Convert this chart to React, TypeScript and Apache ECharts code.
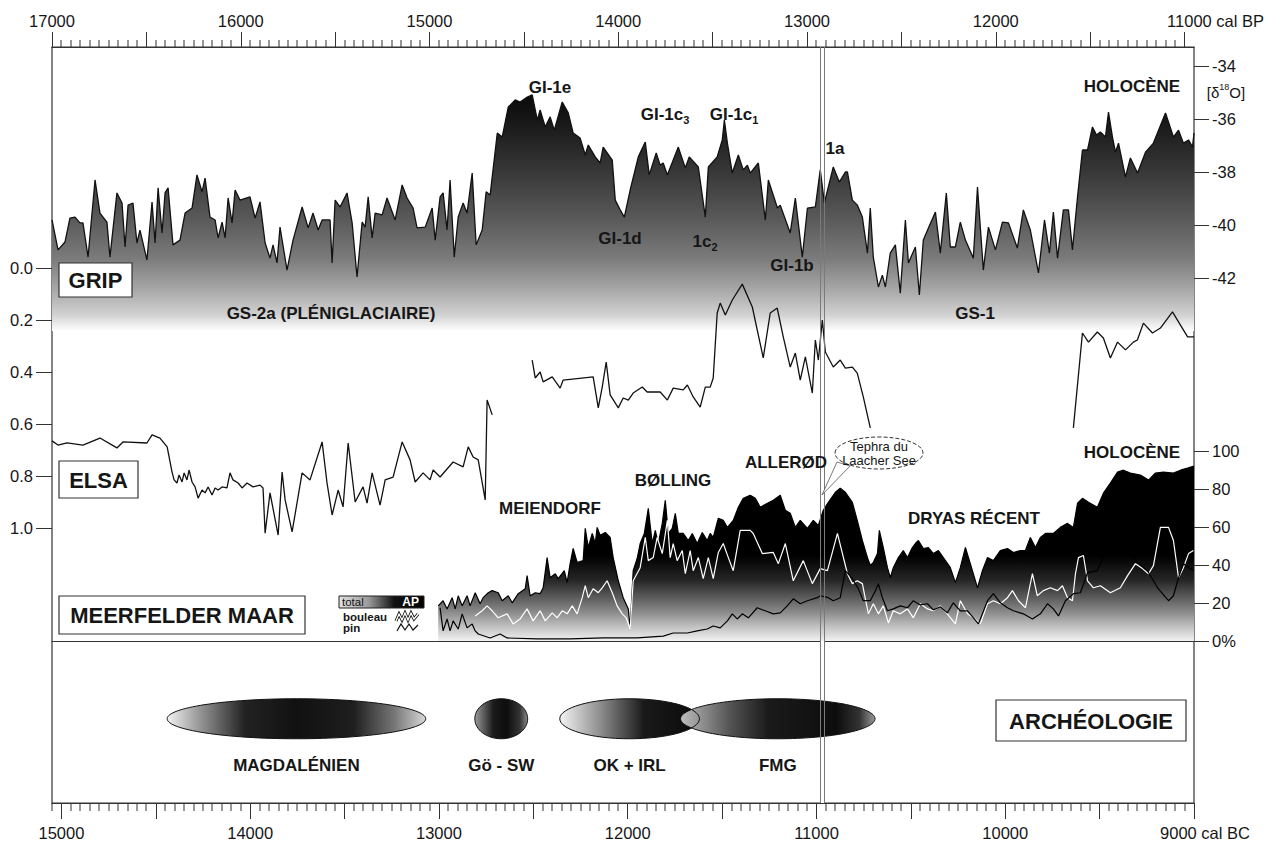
import { useEffect, useRef } from "react";
import * as echarts from "echarts";

const FONT = "'Liberation Sans', Arial, Helvetica, sans-serif";
const INK = "#161616";

// GRIP ice core, δ18O (‰) against years cal BP
const gripRecord: [number, number][] = [
  [17000, -39.81], [16968, -40.94], [16931, -40.64], [16905, -39.74], [16878, -39.7], [16852, -39.92], [16836, -39.92],
  [16809, -41.21], [16772, -38.3], [16746, -39.55], [16709, -39.89], [16693, -41.21], [16656, -38.79], [16629, -39.17],
  [16613, -40.83], [16597, -39.25], [16571, -39.17], [16550, -40.68], [16534, -40.19], [16497, -41.32], [16470, -39.13],
  [16454, -40.68], [16438, -38.6], [16417, -40.3], [16401, -38.79], [16385, -38.6], [16359, -40.75], [16322, -40.57],
  [16295, -39.55], [16258, -39.36], [16232, -38.11], [16205, -38.75], [16189, -38.23], [16163, -39.7], [16136, -39.81],
  [16120, -40.49], [16099, -39.89], [16083, -40.49], [16067, -38.98], [16046, -39.92], [16030, -38.68], [16004, -39.06],
  [15951, -38.94], [15924, -39.74], [15898, -39.13], [15871, -40.68], [15845, -41.25], [15829, -40.75], [15808, -41.43],
  [15792, -40.08], [15755, -41.7], [15723, -40.57], [15675, -39.32], [15643, -40.11], [15617, -39.55], [15590, -40.19],
  [15569, -39.81], [15527, -39.81], [15516, -41.43], [15500, -39.06], [15474, -39.32], [15437, -38.79], [15410, -39.92],
  [15384, -41.96], [15357, -39.89], [15341, -40.08], [15325, -38.94], [15304, -40.49], [15288, -39.55], [15251, -39.62],
  [15225, -38.98], [15182, -39.81], [15145, -38.49], [15119, -38.98], [15087, -39.36], [15066, -40.11], [15023, -40.08],
  [14986, -39.36], [14970, -40.57], [14944, -38.94], [14928, -38.79], [14907, -40.19], [14891, -38.3], [14869, -41.21],
  [14848, -39.7], [14822, -39.17], [14801, -39.55], [14774, -38.04], [14753, -40.75], [14721, -40.19], [14700, -38.75],
  [14679, -38.87], [14641, -36.53], [14615, -36.68], [14583, -35.55], [14546, -35.28], [14520, -35.36], [14482, -35.17],
  [14456, -35.09], [14429, -36.04], [14414, -35.66], [14387, -36.3], [14361, -35.92], [14339, -36.42], [14297, -35.36],
  [14265, -35.77], [14239, -36.53], [14202, -36.72], [14175, -37.36], [14159, -36.98], [14122, -37.43], [14096, -37.66],
  [14080, -37.06], [14032, -37.55], [14016, -39.06], [13990, -39.43], [13968, -39.7], [13937, -38.68], [13894, -37.43],
  [13857, -36.87], [13836, -38.11], [13799, -37.28], [13778, -37.74], [13762, -37.66], [13740, -38.11], [13682, -37.06],
  [13645, -37.85], [13624, -37.43], [13576, -37.81], [13539, -39.7], [13523, -37.81], [13476, -37.43], [13449, -36.79],
  [13438, -36.04], [13422, -36.91], [13396, -38.04], [13364, -37.36], [13338, -37.92], [13316, -37.74], [13301, -38.04],
  [13258, -37.66], [13221, -39.81], [13205, -38.3], [13157, -39.36], [13142, -39.25], [13089, -40.3], [13062, -38.98],
  [13025, -41.21], [12998, -39.36], [12956, -39.32], [12930, -37.92], [12908, -39.17], [12861, -37.81], [12829, -38.38],
  [12797, -38.0], [12786, -38.0], [12760, -39.06], [12733, -39.25], [12707, -39.7], [12680, -41.06], [12665, -39.36],
  [12649, -41.21], [12622, -42.34], [12601, -41.89], [12585, -42.34], [12559, -41.06], [12532, -40.75], [12506, -42.57],
  [12479, -39.81], [12463, -41.43], [12426, -40.83], [12405, -42.64], [12384, -40.57], [12357, -40.11], [12320, -39.51],
  [12294, -41.06], [12262, -38.79], [12241, -40.83], [12214, -40.83], [12188, -39.89], [12161, -40.57], [12119, -41.25],
  [12097, -38.57], [12066, -41.7], [12039, -40.08], [12002, -40.94], [11965, -39.89], [11933, -39.92], [11886, -40.87],
  [11854, -39.43], [11817, -40.19], [11774, -41.81], [11742, -39.81], [11716, -41.06], [11695, -39.51], [11673, -41.25],
  [11642, -39.43], [11615, -39.43], [11594, -40.94], [11567, -38.94], [11541, -37.17], [11514, -37.17], [11488, -36.3],
  [11467, -36.6], [11446, -36.49], [11419, -36.68], [11403, -35.74], [11382, -36.68], [11366, -37.25], [11350, -36.91],
  [11313, -38.19], [11287, -37.47], [11249, -38.04], [11207, -37.25], [11165, -36.91], [11101, -35.77], [11059, -36.68],
  [11032, -36.42], [11006, -36.91], [10979, -36.79], [10958, -37.06], [10950, -36.53],
];

// ELSA stack, three continuous runs, years cal BC
const elsaRunA: [number, number][] = [
  [15050, 0.665], [15018, 0.681], [14970, 0.673], [14886, 0.681], [14796, 0.654], [14706, 0.692], [14674, 0.669],
  [14547, 0.673], [14520, 0.642], [14478, 0.654], [14440, 0.688], [14414, 0.785], [14403, 0.815], [14388, 0.827],
  [14377, 0.796], [14361, 0.823], [14350, 0.788], [14335, 0.815], [14324, 0.777], [14308, 0.823], [14292, 0.842],
  [14276, 0.885], [14255, 0.854], [14239, 0.865], [14223, 0.842], [14202, 0.873], [14186, 0.846], [14170, 0.854],
  [14149, 0.842], [14123, 0.846], [14107, 0.788], [14091, 0.815], [14064, 0.827], [14043, 0.846], [14017, 0.827],
  [13985, 0.842], [13948, 0.835], [13932, 0.846], [13921, 1.02], [13895, 0.865], [13852, 1.027], [13831, 0.785],
  [13815, 0.892], [13778, 1.015], [13725, 0.788], [13683, 0.815], [13619, 0.669], [13593, 0.827], [13566, 0.95],
  [13534, 0.854], [13508, 0.919], [13481, 0.673], [13444, 0.9], [13402, 0.842], [13381, 0.904], [13354, 0.788],
  [13312, 0.912], [13285, 0.815], [13243, 0.804], [13195, 0.669], [13153, 0.738], [13126, 0.823], [13084, 0.788],
  [13047, 0.815], [13031, 0.777], [12994, 0.804], [12925, 0.746], [12872, 0.765], [12845, 0.688], [12819, 0.727],
  [12792, 0.738], [12755, 0.892], [12745, 0.508], [12718, 0.565],
];
const elsaRunB: [number, number][] = [
  [12506, 0.354], [12490, 0.423], [12464, 0.4], [12448, 0.438], [12400, 0.419], [12358, 0.462], [12342, 0.431],
  [12183, 0.419], [12156, 0.538], [12135, 0.458], [12114, 0.362], [12093, 0.488], [12050, 0.538], [12024, 0.5],
  [11997, 0.508], [11971, 0.481], [11923, 0.458], [11897, 0.477], [11828, 0.477], [11790, 0.508], [11759, 0.462],
  [11706, 0.469], [11684, 0.45], [11653, 0.496], [11616, 0.535], [11589, 0.458], [11563, 0.458], [11547, 0.423],
  [11526, 0.173], [11510, 0.135], [11483, 0.181], [11446, 0.123], [11393, 0.062], [11340, 0.15], [11282, 0.346],
  [11245, 0.173], [11208, 0.154], [11176, 0.265], [11139, 0.381], [11112, 0.327], [11086, 0.431], [11059, 0.342],
  [11022, 0.481], [11006, 0.277], [10990, 0.354], [10969, 0.2], [10953, 0.323], [10911, 0.381], [10874, 0.354],
  [10847, 0.385], [10810, 0.381], [10784, 0.404], [10752, 0.496], [10715, 0.615],
];
const elsaRunC: [number, number][] = [
  [9639, 0.615], [9591, 0.25], [9559, 0.285], [9512, 0.246], [9480, 0.269], [9443, 0.346], [9405, 0.285],
  [9363, 0.315], [9321, 0.285], [9300, 0.277], [9268, 0.212], [9220, 0.25], [9178, 0.231], [9114, 0.169],
  [9034, 0.265], [9000, 0.265],
];

// Meerfelder Maar pollen (%), years cal BC
const apTotal: [number, number][] = [
  [13004, 18.5], [12978, 21.2], [12957, 16.9], [12930, 22.8], [12914, 16.9], [12898, 23.8], [12877, 18.5], [12851, 23.8],
  [12835, 18.5], [12808, 25.4], [12782, 19.6], [12766, 22.8], [12739, 25.4], [12718, 26.5], [12686, 25.4], [12665, 21.2],
  [12633, 23.8], [12612, 20.1], [12580, 24.9], [12543, 27.5], [12533, 34.4], [12517, 23.8], [12490, 25.4], [12464, 24.9],
  [12448, 28.0], [12427, 43.9], [12411, 33.3], [12384, 35.4], [12368, 32.8], [12336, 37.0], [12321, 30.7], [12305, 40.7],
  [12289, 48.7], [12268, 41.3], [12236, 42.3], [12225, 59.3], [12209, 49.2], [12188, 56.6], [12172, 51.3], [12162, 59.8],
  [12146, 55.6], [12119, 57.1], [12093, 54.5], [12077, 43.9], [12050, 31.7], [12024, 22.8], [11997, 16.9], [11987, 6.9],
  [11971, 37.0], [11950, 43.4], [11934, 51.3], [11912, 56.6], [11891, 69.8], [11870, 51.3], [11854, 58.2], [11838, 51.3],
  [11817, 61.9], [11801, 74.1], [11785, 56.6], [11764, 59.3], [11748, 67.2], [11732, 56.6], [11706, 56.6], [11679, 52.9],
  [11658, 56.6], [11632, 51.3], [11605, 57.1], [11579, 52.9], [11563, 56.6], [11547, 54.5], [11520, 64.6], [11494, 63.5],
  [11472, 59.8], [11441, 63.5], [11414, 70.4], [11388, 75.1], [11351, 76.7], [11324, 75.1], [11298, 70.4], [11260, 72.5],
  [11229, 74.1], [11192, 76.7], [11165, 68.8], [11139, 67.2], [11112, 59.8], [11086, 63.5], [11048, 59.3], [11017, 63.5],
  [10990, 60.8], [10964, 68.8], [10937, 73.0], [10900, 78.3], [10874, 80.4], [10847, 78.3], [10810, 73.0], [10784, 63.5],
  [10757, 52.9], [10730, 43.9], [10715, 39.7], [10699, 41.3], [10677, 46.0], [10667, 58.2], [10646, 49.2], [10624, 38.6],
  [10609, 33.3], [10593, 38.6], [10566, 43.9], [10540, 47.6], [10518, 43.9], [10492, 49.2], [10476, 51.3], [10460, 52.9],
  [10434, 48.7], [10407, 49.2], [10381, 46.0], [10354, 47.6], [10328, 43.9], [10291, 38.6], [10264, 30.7], [10238, 38.6],
  [10211, 49.2], [10185, 40.7], [10147, 28.0], [10121, 37.0], [10094, 43.9], [10063, 42.3], [10026, 47.6], [9988, 48.7],
  [9957, 46.6], [9920, 47.6], [9893, 47.6], [9867, 54.5], [9840, 49.2], [9814, 54.5], [9787, 56.6], [9745, 56.6],
  [9708, 59.8], [9670, 61.9], [9639, 59.8], [9617, 72.5], [9591, 75.1], [9559, 73.0], [9512, 70.4], [9480, 77.8],
  [9443, 83.1], [9405, 88.9], [9374, 89.9], [9337, 88.4], [9284, 87.3], [9241, 84.7], [9204, 88.4], [9162, 88.9],
  [9109, 88.4], [9072, 89.9], [9034, 91.0], [9000, 92.1],
];
const birch: [number, number][] = [
  [12808, 13.2], [12771, 15.9], [12745, 18.5], [12718, 15.9], [12686, 12.2], [12639, 14.3], [12607, 9.0], [12570, 11.6],
  [12533, 16.9], [12501, 10.6], [12464, 15.9], [12437, 10.6], [12400, 14.8], [12374, 12.2], [12347, 15.9], [12321, 14.3],
  [12294, 18.5], [12268, 14.3], [12241, 22.8], [12225, 29.1], [12209, 22.8], [12183, 27.5], [12156, 25.4], [12135, 28.0],
  [12109, 31.7], [12082, 25.4], [12056, 18.5], [12029, 14.3], [12008, 12.2], [11987, 6.3], [11971, 31.7], [11934, 38.6],
  [11907, 54.5], [11891, 42.3], [11865, 43.9], [11844, 54.5], [11817, 46.0], [11790, 63.5], [11775, 43.9], [11759, 51.3],
  [11738, 42.3], [11711, 47.6], [11695, 35.4], [11669, 47.6], [11653, 37.0], [11626, 43.9], [11600, 32.8], [11573, 43.9],
  [11547, 32.8], [11520, 46.6], [11494, 51.3], [11467, 43.9], [11441, 37.0], [11404, 58.2], [11351, 58.2], [11335, 56.6],
  [11287, 46.0], [11229, 46.6], [11202, 40.7], [11165, 51.3], [11123, 31.7], [11070, 42.3], [11022, 30.2], [10980, 38.1],
  [10942, 37.0], [10889, 56.6], [10836, 35.4], [10810, 30.2], [10784, 31.7], [10757, 30.2], [10725, 14.3], [10699, 19.6],
  [10672, 14.3], [10646, 18.5], [10619, 9.5], [10593, 15.9], [10556, 14.3], [10518, 16.9], [10487, 12.2], [10450, 19.6],
  [10412, 16.9], [10381, 15.9], [10344, 18.5], [10307, 14.3], [10264, 9.0], [10238, 21.2], [10200, 14.3], [10169, 12.2],
  [10132, 9.0], [10094, 19.6], [10063, 21.2], [10026, 19.6], [9988, 22.8], [9962, 26.5], [9930, 21.2], [9893, 17.5],
  [9856, 35.4], [9830, 23.8], [9798, 26.5], [9761, 28.0], [9723, 26.5], [9697, 29.1], [9670, 22.8], [9644, 21.2],
  [9628, 35.4], [9612, 43.9], [9586, 45.0], [9564, 31.7], [9533, 28.0], [9496, 29.1], [9443, 25.4], [9390, 28.0],
  [9352, 34.4], [9310, 40.7], [9273, 38.1], [9241, 35.4], [9215, 39.7], [9178, 59.8], [9135, 59.8], [9109, 52.9],
  [9082, 33.3], [9056, 38.6], [9029, 46.0], [9003, 47.6],
];
const pine: [number, number][] = [
  [12994, 17.5], [12978, 5.3], [12957, 11.6], [12941, 5.3], [12925, 10.6], [12898, 6.3], [12877, 14.3], [12851, 6.9],
  [12824, 9.0], [12808, 5.3], [12792, 3.7], [12729, 1.6], [12676, 3.7], [12639, 1.6], [12480, 1.1], [12305, 1.1],
  [12130, 1.6], [11950, 1.6], [11812, 2.6], [11759, 4.2], [11684, 4.2], [11632, 5.3], [11579, 6.3], [11547, 7.9],
  [11510, 6.9], [11472, 10.6], [11446, 14.3], [11420, 11.6], [11393, 14.3], [11361, 12.2], [11314, 17.5], [11271, 15.9],
  [11229, 14.3], [11192, 14.8], [11155, 18.5], [11123, 22.2], [11086, 19.6], [11048, 21.2], [10996, 22.8], [10980, 23.8],
  [10937, 22.8], [10911, 21.2], [10874, 22.8], [10847, 37.0], [10810, 32.8], [10778, 27.5], [10752, 21.2], [10715, 21.2],
  [10688, 26.5], [10672, 30.2], [10651, 22.8], [10624, 15.9], [10593, 16.9], [10556, 18.5], [10518, 17.5], [10487, 21.2],
  [10450, 19.0], [10412, 19.6], [10381, 16.4], [10344, 18.0], [10307, 14.8], [10275, 20.1], [10238, 15.9], [10200, 15.9],
  [10142, 9.0], [10094, 21.2], [10063, 24.9], [10026, 20.1], [9988, 17.5], [9957, 15.9], [9904, 14.3], [9856, 11.6],
  [9814, 14.3], [9776, 19.6], [9745, 16.9], [9718, 13.2], [9681, 21.2], [9639, 24.9], [9602, 25.4], [9564, 36.0],
  [9512, 37.0], [9458, 49.2], [9405, 58.2], [9352, 49.2], [9300, 41.3], [9246, 37.0], [9193, 28.0], [9135, 21.2],
  [9109, 23.8], [9082, 33.3], [9056, 40.7], [9029, 38.6], [9000, 37.0],
];

// Archaeological cultures, cal BC
const cultureNames = ["MAGDALÉNIEN", "Gö - SW", "OK + IRL", "FMG"];
const cultureStart = [14440, 12810, 12360, 11720];
const cultureEnd = [13070, 12530, 11620, 10690];

// Laacher See tephra marker, cal BC
const laacherSeeBC = 10970;

// Axis tick labels
const bpLabels = [17000, 16000, 15000, 14000, 13000, 12000, 11000];
const bcLabels = [15000, 14000, 13000, 12000, 11000, 10000, 9000];
const d18OTicks = [-42, -40, -38, -36, -34];

function steps(from: number, to: number, step: number) {
  const out: number[] = [];
  for (let v = from; v <= to; v += step) out.push(v);
  return out;
}
const bpMajorTicks = steps(11000, 17000, 500);
const bcMajorTicks = steps(9000, 15000, 500);
const bpMinorTicks = steps(11000, 17000, 50).filter((v) => v % 500 !== 0);
const bcMinorTicks = steps(9000, 15050, 50).filter((v) => v % 500 !== 0);

// frame edges (px)
const FRAME_TOP = 47;
const FRAME_BOTTOM = 803;

// shading of each culture bar (left → right)
const cultureShades: [number, string][][] = [
  [[0, "#f2f2f2"], [0.12, "#9a9a9a"], [0.3, "#222"], [0.5, "#111"], [0.72, "#1e1e1e"], [0.88, "#777"], [1, "#d8d8d8"]],
  [[0, "#9a9a9a"], [0.35, "#1a1a1a"], [0.6, "#0d0d0d"], [0.85, "#333"], [1, "#8a8a8a"]],
  [[0, "#f4f4f4"], [0.3, "#8a8a8a"], [0.6, "#1a1a1a"], [1, "#0a0a0a"]],
  [[0, "#bdbdbd"], [0.25, "#555"], [0.45, "#1a1a1a"], [0.8, "#0d0d0d"], [0.92, "#333"], [1, "#9a9a9a"]],
];
const CULTURE_ROW = 0.52;

const grad = (stops: [number, string][]) => stops.map(([offset, color]) => ({ offset, color }));

function textEl(text: string, x: number, y: number, size = 17, weight = "bold", extra: any = {}) {
  return {
    type: "text",
    x,
    y,
    z: 101,
    silent: true,
    style: {
      text,
      fill: INK,
      font: `${weight} ${size}px ${FONT}`,
      align: "center",
      verticalAlign: "middle",
      textAlign: "center",
      textVerticalAlign: "middle",
      ...extra,
    },
  };
}

function boxEl(x: number, y: number, w: number, h: number) {
  return {
    type: "rect",
    z: 100,
    silent: true,
    shape: { x, y, width: w, height: h },
    style: { fill: "#fff", stroke: "#333", lineWidth: 1.2 },
  };
}

function subLabel(main: string, sub: string, x: number, y: number) {
  return textEl(`{b|${main}}{s|${sub}}`, x, y, 17, "bold", {
    rich: {
      b: { font: `bold 17px ${FONT}`, fill: INK, lineHeight: 22, verticalAlign: "middle" },
      s: { font: `bold 11px ${FONT}`, fill: INK, lineHeight: 22, verticalAlign: "bottom" },
    },
  });
}

function annotationElements(): any[] {
  return [
    // panel boxes
    boxEl(59, 263, 73, 34), textEl("GRIP", 95.5, 280.5, 22),
    boxEl(59, 461, 79, 37), textEl("ELSA", 98.5, 480, 22),
    boxEl(59, 596, 246, 38), textEl("MEERFELDER MAAR", 182, 615.5, 22),
    boxEl(996, 700, 190, 41), textEl("ARCHÉOLOGIE", 1091, 721, 22),

    // GRIP events
    textEl("GI-1e", 550, 87),
    subLabel("GI-1c", "3", 665, 114),
    subLabel("GI-1c", "1", 734, 114),
    textEl("1a", 835, 148),
    textEl("GI-1d", 620, 238),
    subLabel("1c", "2", 705, 241),
    textEl("GI-1b", 792, 265),
    textEl("HOLOCÈNE", 1132, 86),
    textEl("GS-2a (PLÉNIGLACIAIRE)", 331, 313),
    textEl("GS-1", 975, 313),
    textEl("{b|[δ}{s|18}{b|O]}", 1226, 92, 15, "normal", {
      rich: {
        b: { font: `normal 15px ${FONT}`, fill: INK, lineHeight: 20, verticalAlign: "middle" },
        s: { font: `normal 9px ${FONT}`, fill: INK, lineHeight: 20, verticalAlign: "top" },
      },
    }),

    // pollen zones
    textEl("MEIENDORF", 550, 508),
    textEl("BØLLING", 673, 480),
    textEl("ALLERØD", 786, 462),
    textEl("DRYAS RÉCENT", 974, 518),
    textEl("HOLOCÈNE", 1132, 452),

    // Laacher See tephra callout
    {
      type: "polygon", z: 99, silent: true,
      shape: { points: [[837, 462], [850, 466], [822, 495]] },
      style: { fill: "#fff", stroke: "#555", lineWidth: 0.8 },
    },
    {
      type: "ellipse", z: 100, silent: true,
      shape: { cx: 879, cy: 453, rx: 44, ry: 16 },
      style: { fill: "#fff", stroke: "#333", lineWidth: 1, lineDash: [4, 2] },
    },
    textEl("Tephra du", 879, 446, 13, "normal"),
    textEl("Laacher See", 879, 460, 13, "normal"),

    // pollen key
    {
      type: "rect", z: 100, silent: true,
      shape: { x: 339, y: 596, width: 85, height: 12 },
      style: {
        fill: new echarts.graphic.LinearGradient(0, 0, 1, 0, grad([[0, "#e4e4e4"], [0.35, "#9a9a9a"], [0.65, "#111"], [1, "#000"]])),
        stroke: "#222", lineWidth: 1,
      },
    },
    textEl("total", 342, 602, 11.5, "normal", { align: "left", textAlign: "left", fill: "#111" }),
    textEl("AP", 419, 602, 12, "bold", { align: "right", textAlign: "right", fill: "#fff" }),
    textEl("bouleau", 343, 617, 11.5, "bold", { align: "left", textAlign: "left" }),
    textEl("pin", 343, 628, 11.5, "bold", { align: "left", textAlign: "left" }),
    {
      type: "polyline", z: 100, silent: true,
      shape: { points: [[396, 621], [399, 614], [402, 620], [405, 613], [408, 620], [411, 613], [414, 619], [418, 614]] },
      style: { stroke: "#111", lineWidth: 3, fill: "none" },
    },
    {
      type: "polyline", z: 101, silent: true,
      shape: { points: [[396, 621], [399, 614], [402, 620], [405, 613], [408, 620], [411, 613], [414, 619], [418, 614]] },
      style: { stroke: "#fff", lineWidth: 1.3, fill: "none" },
    },
    {
      type: "polyline", z: 100, silent: true,
      shape: { points: [[397, 631], [401, 624], [405, 630], [409, 624], [413, 630], [418, 625]] },
      style: { stroke: "#111", lineWidth: 1.2, fill: "none" },
    },
  ];
}

function buildOption(): any {
  const axisText = { fontSize: 16.5, fontFamily: FONT, color: INK };
  const tickStyle = { color: "#333", width: 1 };
  const noLine = { show: false, onZero: false };
  const hiddenX = (gridIndex: number, min: number, max: number) => ({
    type: "value", gridIndex, min, max, inverse: true, show: false, splitLine: { show: false },
  });
  const grid = (top: number, bottom: number, extra: any = {}) => ({
    left: 52, right: 87, top, bottom, containLabel: false, outerBoundsMode: "none", ...extra,
  });

  const gripFill = new echarts.graphic.LinearGradient(0, 66, 0, 331, grad([
    [0, "#000"], [0.17, "#111"], [0.39, "#363636"], [0.58, "#5a5a5a"], [0.73, "#7c7c7c"],
    [0.845, "#a8a8a8"], [0.94, "#d2d2d2"], [1, "#fff"],
  ]), true);
  const apFill = new echarts.graphic.LinearGradient(0, 451, 0, 641, grad([
    [0, "#000"], [0.55, "#000"], [0.68, "#262626"], [0.78, "#616161"], [0.85, "#8c8c8c"],
    [0.92, "#bebebe"], [1, "#f2f2f2"],
  ]), true);

  const cultureData = cultureStart.map((s, i) => [s, cultureEnd[i]]);
  const ellipseOf = (api: any) => {
    const p0 = api.coord([api.value(0), CULTURE_ROW]);
    const p1 = api.coord([api.value(1), CULTURE_ROW]);
    return { cx: (p0[0] + p1[0]) / 2, cy: p0[1], rx: Math.abs(p1[0] - p0[0]) / 2, ry: 20 };
  };

  const tephraBand = [[{ xAxis: laacherSeeBC + 10 }, { xAxis: laacherSeeBC - 10 }]];

  // minor tick rows: one entry per tick value, x from the time axis, y pinned to the frame edge
  const minorTicks = (xAxisIndex: number, values: number[], edge: number, up: boolean, len: number) => ({
    name: "minor ticks", type: "custom", xAxisIndex, yAxisIndex: 0, silent: true, clip: false, z: 8,
    data: values.map((v) => [v, edge]), encode: { x: 0, y: 1 },
    renderItem: (_params: any, api: any) => {
      const p = api.coord([api.value(0), api.value(1)]);
      return {
        type: "rect",
        shape: { x: Math.round(p[0]) - 0.5, y: up ? p[1] - len : p[1], width: 1, height: len },
        style: { fill: "#333", stroke: "none" },
      };
    },
  });

  return {
    animation: false,
    backgroundColor: "#fff",
    grid: [
      grid(FRAME_TOP, 841 - FRAME_BOTTOM, { show: true, borderColor: "#333", borderWidth: 1.2, backgroundColor: "transparent" }),
      grid(66, 510),
      grid(268, 313),
      grid(451, 200),
      grid(641, 841 - FRAME_BOTTOM),
    ],
    xAxis: [
      {
        type: "value", gridIndex: 0, position: "top", min: 10950, max: 17000, inverse: true,
        axisLine: { show: true, onZero: false, lineStyle: { color: "#333", width: 1.2 } },
        axisTick: { show: true, length: 15, customValues: bpMajorTicks, lineStyle: tickStyle },
        axisLabel: {
          ...axisText, margin: 18, customValues: bpLabels,
          formatter: (v: number) => (v === 11000 ? "{u|11000 cal BP}" : String(v)),
          rich: { u: { ...axisText, padding: [0, 0, 0, 62] } },
        },
        splitLine: { show: false },
      },
      {
        type: "value", gridIndex: 0, position: "bottom", min: 9000, max: 15050, inverse: true,
        axisLine: { show: true, onZero: false, lineStyle: { color: "#333", width: 1.2 } },
        axisTick: { show: true, length: 16, customValues: bcMajorTicks, lineStyle: tickStyle },
        axisLabel: {
          ...axisText, margin: 21, customValues: bcLabels,
          formatter: (v: number) => (v === 9000 ? "{u|9000 cal BC}" : String(v)),
          rich: { u: { ...axisText, padding: [0, 0, 0, 22] } },
        },
        splitLine: { show: false },
      },
      hiddenX(1, 10950, 17000),
      hiddenX(2, 9000, 15050),
      {
        type: "value", gridIndex: 3, min: 9000, max: 15050, inverse: true, position: "bottom",
        axisLine: { show: true, onZero: false, lineStyle: { color: "#333", width: 1.2 } },
        axisTick: { show: false }, axisLabel: { show: false }, splitLine: { show: false },
      },
      hiddenX(4, 9000, 15050),
    ],
    yAxis: [
      { type: "value", gridIndex: 0, min: 0, max: 1, show: false, splitLine: { show: false } },
      {
        type: "value", gridIndex: 1, position: "right", min: -44, max: -34,
        axisLine: noLine,
        axisTick: { show: true, length: 15, customValues: d18OTicks, lineStyle: tickStyle },
        axisLabel: { ...axisText, margin: 18, customValues: d18OTicks },
        splitLine: { show: false },
      },
      {
        type: "value", gridIndex: 2, position: "left", min: 0, max: 1, interval: 0.2, inverse: true,
        axisLine: noLine,
        axisTick: { show: true, length: 16, lineStyle: tickStyle },
        axisLabel: { ...axisText, margin: 19, formatter: (v: number) => v.toFixed(1) },
        splitLine: { show: false },
      },
      {
        type: "value", gridIndex: 3, position: "right", min: 0, max: 100, interval: 20,
        axisLine: noLine,
        axisTick: { show: true, length: 15, lineStyle: tickStyle },
        axisLabel: { ...axisText, margin: 18, formatter: (v: number) => (v === 0 ? "0%" : String(v)) },
        splitLine: { show: false },
      },
      { type: "value", gridIndex: 4, min: 0, max: 1, show: false, splitLine: { show: false } },
    ],
    series: [
      {
        name: "GRIP", type: "line", xAxisIndex: 2, yAxisIndex: 1, data: gripRecord, symbol: "none", z: 2, silent: true,
        lineStyle: { color: "#111", width: 1.3 },
        areaStyle: { origin: "start", color: gripFill, opacity: 1 },
      },
      ...[elsaRunA, elsaRunB, elsaRunC].map((run) => ({
        name: "ELSA", type: "line", xAxisIndex: 3, yAxisIndex: 2, data: run, symbol: "none", z: 4, clip: false,
        silent: true, lineStyle: { color: "#111", width: 1.3 },
      })),
      {
        name: "AP total", type: "line", xAxisIndex: 4, yAxisIndex: 3, data: apTotal, symbol: "none", z: 2, silent: true,
        lineStyle: { color: "#000", width: 1.2 },
        areaStyle: { origin: "start", color: apFill, opacity: 1 },
      },
      {
        name: "tephra band", type: "line", xAxisIndex: 4, yAxisIndex: 3, data: [], z: 3, silent: true,
        markArea: { silent: true, itemStyle: { color: "#fff", opacity: 1 }, data: tephraBand },
      },
      {
        name: "bouleau", type: "line", xAxisIndex: 4, yAxisIndex: 3, data: birch, symbol: "none", z: 4, silent: true,
        lineStyle: { color: "#fff", width: 1.2 },
      },
      {
        name: "pin", type: "line", xAxisIndex: 4, yAxisIndex: 3, data: pine, symbol: "none", z: 4, silent: true,
        lineStyle: { color: "#000", width: 1.2 },
      },
      {
        name: "cultures", type: "custom", xAxisIndex: 5, yAxisIndex: 4, data: cultureData, z: 2, silent: true,
        encode: { x: [0, 1] },
        renderItem: (params: any, api: any) => {
          const e = ellipseOf(api);
          const i = params.dataIndex;
          return {
            type: "group",
            children: [
              {
                type: "ellipse", shape: e,
                style: { fill: new echarts.graphic.LinearGradient(0, 0, 1, 0, grad(cultureShades[i])), stroke: "none" },
              },
              {
                type: "text",
                style: {
                  text: cultureNames[i], x: e.cx, y: e.cy + 47, fill: INK, font: `bold 17px ${FONT}`,
                  align: "center", verticalAlign: "middle", textAlign: "center", textVerticalAlign: "middle",
                },
              },
            ],
          };
        },
      },
      {
        name: "culture outlines", type: "custom", xAxisIndex: 5, yAxisIndex: 4, data: cultureData, z: 3, silent: true,
        encode: { x: [0, 1] },
        renderItem: (_params: any, api: any) => ({
          type: "ellipse", shape: ellipseOf(api), style: { fill: "none", stroke: "#111", lineWidth: 1 },
        }),
      },
      {
        name: "tephra band arch", type: "line", xAxisIndex: 5, yAxisIndex: 4, data: [], z: 4, silent: true,
        markArea: { silent: true, itemStyle: { color: "#fff", opacity: 1 }, data: tephraBand },
      },
      {
        name: "Laacher See", type: "line", xAxisIndex: 1, yAxisIndex: 0, data: [], z: 6, silent: true,
        markLine: {
          silent: true, symbol: ["none", "none"], label: { show: false },
          lineStyle: { color: "#7a7a7a", width: 1, type: "solid" },
          data: [{ xAxis: laacherSeeBC + 10 }, { xAxis: laacherSeeBC - 10 }],
        },
      },
      minorTicks(0, bpMinorTicks, 1, true, 7),
      minorTicks(1, bcMinorTicks, 0, false, 8),
    ],
    graphic: { elements: annotationElements() },
  };
}

export default function App() {
  const ref = useRef<HTMLDivElement>(null);
  useEffect(() => {
    if (!ref.current) return;
    const chart = echarts.init(ref.current, null, { renderer: "svg" });
    chart.setOption(buildOption());
    return () => chart.dispose();
  }, []);
  return (
    <div
      ref={ref}
      style={{ position: "fixed", left: 0, top: 0, width: 1281, height: 841, background: "#fff" }}
    />
  );
}
